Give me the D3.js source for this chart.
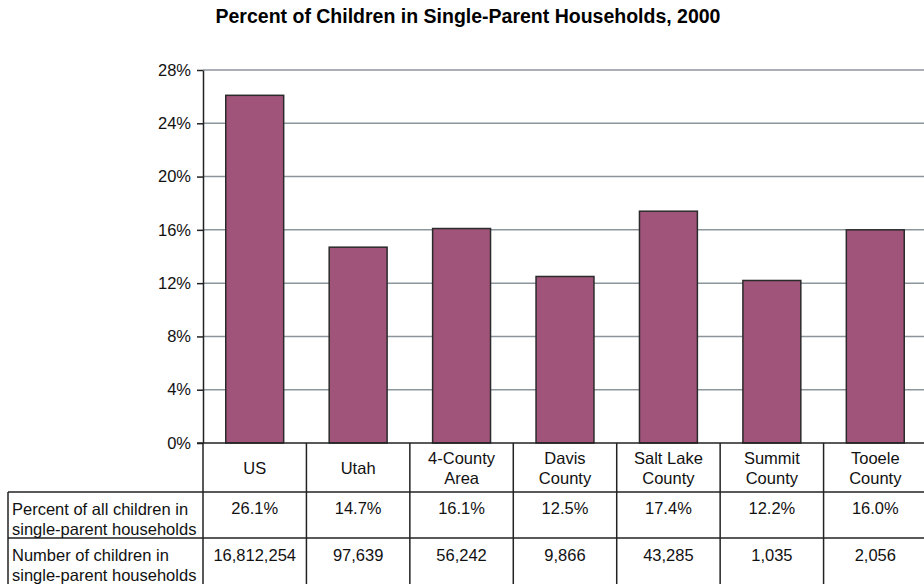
<!DOCTYPE html>
<html>
<head>
<meta charset="utf-8">
<script src="https://cdn.jsdelivr.net/npm/d3@7"></script>
<style>
  body { margin: 0; background: #fff; }
  svg { font-family: "Liberation Sans", Arial, sans-serif; }
</style>
</head>
<body>
<div id="chart"></div>
<script>
// chart data
var categories = [["US"], ["Utah"], ["4-County", "Area"], ["Davis", "County"], ["Salt Lake", "County"], ["Summit", "County"], ["Tooele", "County"]];
var percents = [26.1, 14.7, 16.1, 12.5, 17.4, 12.2, 16.0];
var counts = ["16,812,254", "97,639", "56,242", "9,866", "43,285", "1,035", "2,056"];
var yTicks = [0, 4, 8, 12, 16, 20, 24, 28];
var rowLabels = [["Percent of all children in", "single-parent households"], ["Number of children in", "single-parent households"]];

var width = 924, height = 584;
var plot = {left: 203, right: 927, top: 70, bottom: 443};
var rows = [443, 492, 538, 600];

var svg = d3.select("#chart").append("svg")
  .attr("width", width)
  .attr("height", height);

var names = categories.map(d => d.join(" "));
var x = d3.scaleBand().domain(names).range([plot.left, plot.right]).paddingInner(0).paddingOuter(0);
var y = d3.scaleLinear().domain([0, 28]).range([plot.bottom, plot.top]);
var bw = x.bandwidth() * 0.56;
var fs = "16.5px";

// title
svg.append("text")
  .attr("x", 468).attr("y", 23)
  .attr("text-anchor", "middle")
  .style("font-size", "19.5px").style("font-weight", "bold")
  .text("Percent of Children in Single-Parent Households, 2000");

// gridlines
svg.append("g").selectAll("line")
  .data(yTicks.filter(t => t > 0))
  .enter().append("line")
  .attr("x1", plot.left).attr("x2", plot.right)
  .attr("y1", d => y(d)).attr("y2", d => y(d))
  .attr("stroke", "#8c959c").attr("stroke-width", 1.5);

// y axis
var yAxis = d3.axisLeft(y).tickValues(yTicks).tickFormat(d => d + "%").tickSize(6).tickPadding(6).tickSizeOuter(0);
var ya = svg.append("g")
  .attr("transform", `translate(${plot.left},0)`)
  .call(yAxis);
ya.select(".domain").attr("stroke", "#222").attr("stroke-width", 1.5);
ya.selectAll(".tick line").attr("stroke", "#222").attr("stroke-width", 1.5);
ya.selectAll("text").style("font-size", fs).attr("fill", "#111")
  .attr("font-family", "Liberation Sans, Arial, sans-serif");

// bars
svg.append("g").selectAll("rect")
  .data(percents)
  .enter().append("rect")
  .attr("x", (d, i) => x(names[i]) + (x.bandwidth() - bw) / 2)
  .attr("y", d => y(d))
  .attr("width", bw)
  .attr("height", d => y(0) - y(d))
  .attr("fill", "#a05479")
  .attr("stroke", "#2b2b2b").attr("stroke-width", 1.5);

// table lines
var tl = svg.append("g").attr("stroke", "#222").attr("stroke-width", 1.5);
tl.append("line").attr("x1", plot.left - 6).attr("x2", plot.right).attr("y1", rows[0]).attr("y2", rows[0]);
tl.append("line").attr("x1", 8).attr("x2", plot.right).attr("y1", rows[1]).attr("y2", rows[1]);
tl.append("line").attr("x1", 8).attr("x2", plot.right).attr("y1", rows[2]).attr("y2", rows[2]);
tl.append("line").attr("x1", 8).attr("x2", 8).attr("y1", rows[1]).attr("y2", rows[3]);
tl.selectAll(".vcol")
  .data(names)
  .enter().append("line")
  .attr("x1", d => x(d)).attr("x2", d => x(d))
  .attr("y1", rows[0]).attr("y2", rows[3]);

// category labels
categories.forEach(function(c, i) {
  var cx = x(names[i]) + x.bandwidth() / 2;
  var cy = (rows[0] + rows[1]) / 2;
  var t = svg.append("text").attr("text-anchor", "middle").style("font-size", fs).attr("fill", "#111");
  c.forEach(function(line, j) {
    t.append("tspan").attr("x", cx)
      .attr("y", cy + 6 + (j - (c.length - 1) / 2) * 20)
      .text(line);
  });
});

// values
svg.append("g").selectAll("text")
  .data(percents)
  .enter().append("text")
  .attr("x", (d, i) => x(names[i]) + x.bandwidth() / 2)
  .attr("y", rows[1] + 22)
  .attr("text-anchor", "middle").style("font-size", fs).attr("fill", "#111")
  .text(d => d.toFixed(1) + "%");

svg.append("g").selectAll("text")
  .data(counts)
  .enter().append("text")
  .attr("x", (d, i) => x(names[i]) + x.bandwidth() / 2)
  .attr("y", rows[2] + 23)
  .attr("text-anchor", "middle").style("font-size", fs).attr("fill", "#111")
  .text(d => d);

// row labels
rowLabels.forEach(function(r, i) {
  var t = svg.append("text").style("font-size", fs).attr("fill", "#111");
  r.forEach(function(line, j) {
    t.append("tspan").attr("x", 12).attr("y", rows[i + 1] + 23 + j * 20).text(line);
  });
});
</script>
</body>
</html>
